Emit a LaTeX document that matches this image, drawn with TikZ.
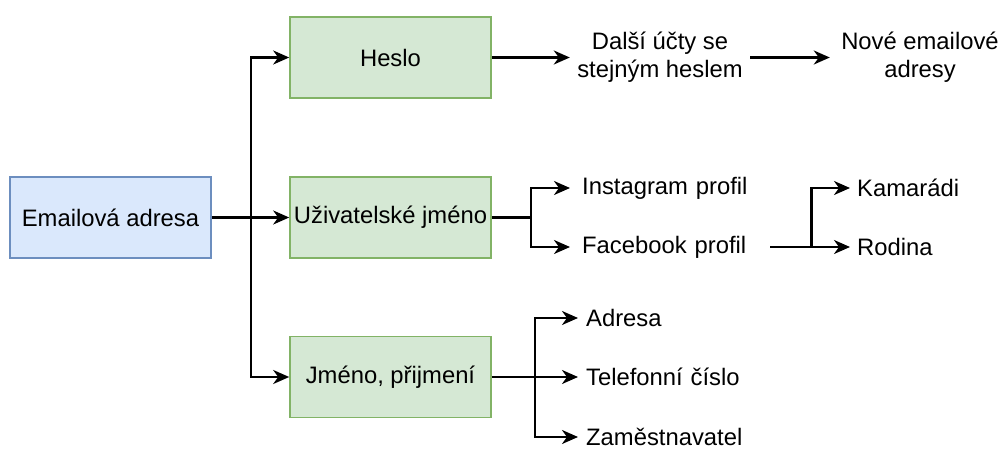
\documentclass[tikz,border=0pt]{standalone}
\usepackage{fontspec}
\setmainfont{Liberation Sans}
\usetikzlibrary{arrows.meta,calc}
\definecolor{bfill}{HTML}{DAE8FC}
\definecolor{bdraw}{HTML}{6C8EBF}
\definecolor{gfill}{HTML}{D5E8D4}
\definecolor{gdraw}{HTML}{82B366}
\begin{document}
\begin{tikzpicture}[x=1pt,y=-1pt,
  font=\fontsize{23.8}{28}\selectfont,
  box/.style={draw, minimum width=201pt, minimum height=81pt, inner sep=0pt, line width=1.6pt},
  bluebox/.style={box, fill=bfill, draw=bdraw},
  greenbox/.style={box, fill=gfill, draw=gdraw},
  lbl/.style={inner sep=0pt, align=center, minimum width=180pt},
  leftlbl/.style={anchor=west, align=left, inner ysep=0pt},
  arr/.style={-{Stealth[length=16pt,width=14pt,inset=5pt]}, line width=2.4pt},
  ln/.style={line width=2.4pt}]
\useasboundingbox (0,0) rectangle (1002,452);

\node[bluebox] (email) at (110.5,217.5) {Emailová adresa};
\node[greenbox] (heslo) at (390.5,57.5) {Heslo};
\node[greenbox] (uziv) at (390.5,217.5) {Uživatelské jméno};
\node[greenbox] (jmeno) at (390.5,377) {Jméno, přijmení};

\node[lbl] (dalsi) at (660,57.5) {Další účty se\\stejným heslem};
\node[lbl] (nove) at (920,57.5) {Nové emailové\\adresy};

\node[leftlbl, text width=176pt, inner xsep=12pt] (insta) at (570,188) {Instagram profil};
\node[leftlbl, text width=176pt, inner xsep=12pt] (fb) at (570,247) {Facebook profil};
\node[leftlbl, text width=120pt, inner xsep=7pt] (kam) at (850,188) {Kamarádi};
\node[leftlbl, text width=120pt, inner xsep=7pt] (rod) at (850,247) {Rodina};

\node[leftlbl, text width=200pt, inner xsep=8pt] (adr) at (578,318) {Adresa};
\node[leftlbl, text width=200pt, inner xsep=8pt] (tel) at (578,377) {Telefonní číslo};
\node[leftlbl, text width=200pt, inner xsep=8pt] (zam) at (578,437) {Zaměstnavatel};

\coordinate (jx) at ($(email.east)+(39,0)$);
\coordinate (ju) at ($(uziv.east)+(39,0)$);
\coordinate (jf) at ($(fb.east)+(41,0)$);
\coordinate (jj) at ($(jmeno.east)+(43,0)$);

\draw[arr] (email.east) -- (uziv.west);
\draw[arr] (jx) |- (heslo.west);
\draw[arr] (jx) |- (jmeno.west);

\draw[arr] (heslo.east) -- (dalsi.west);
\draw[arr] (dalsi.east) -- (nove.west);

\draw[ln] (uziv.east) -- (ju);
\draw[arr] (ju) |- (insta.west);
\draw[arr] (ju) |- (fb.west);

\draw[arr] (fb.east) -- (rod.west);
\draw[arr] (jf) |- (kam.west);

\draw[arr] (jmeno.east) -- (tel.west);
\draw[arr] (jj) |- (adr.west);
\draw[arr] (jj) |- (zam.west);
\end{tikzpicture}
\end{document}
